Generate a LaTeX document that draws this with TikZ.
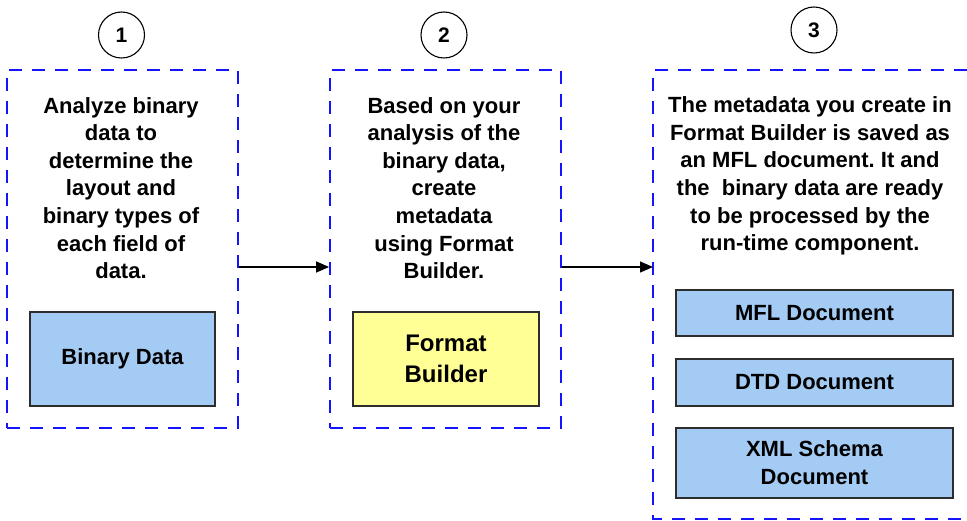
\documentclass[tikz,border=0pt]{standalone}
\usepackage{fontspec}
\setmainfont{Liberation Sans}
\usetikzlibrary{arrows.meta}
\frenchspacing
\definecolor{dashblue}{RGB}{20,20,255}
\definecolor{boxblue}{RGB}{164,203,244}
\definecolor{boxyellow}{RGB}{255,255,150}
\definecolor{boxedge}{RGB}{45,45,45}
\tikzset{
  stagebox/.style={draw=dashblue, line width=1.8pt, dash pattern=on 13pt off 10pt, minimum width=231pt, minimum height=358pt, inner sep=0pt},
  stagetext/.style={align=center, inner sep=0pt, font=\bfseries\fontsize{22}{27.6}\selectfont, anchor=north},
  itembox/.style={draw=boxedge, line width=1.3pt, inner sep=0pt, align=center, font=\bfseries\fontsize{22}{28}\selectfont},
  numcircle/.style={circle, draw=black, line width=1.1pt, minimum size=46pt, inner sep=0pt, font=\bfseries\fontsize{21}{24}\selectfont},
  flow/.style={-{Triangle[length=13pt,width=11pt]}, line width=1.3pt, black}
}
\begin{document}
\begin{tikzpicture}[x=1pt,y=-1pt]
\useasboundingbox (0,0) rectangle (967,521);
% stage boxes
\node[stagebox] (box1) at (122.5,249) {};
\node[stagebox] (box2) at (445.5,249) {};
\coordinate (b3tr) at (967,70);
\coordinate (b3tl) at (653,70);
\coordinate (b3bl) at (653,519);
\coordinate (b3br) at (967,519);
\draw[draw=dashblue, line width=1.8pt, dash pattern=on 13pt off 10pt] (b3tr) -- (b3tl) -- (b3bl) -- (b3br);
% numbers
\node[numcircle] (n1) at (121.5,35) {1};
\node[numcircle] (n2) at (444,35) {2};
\node[numcircle] (n3) at (814,30) {3};
% texts
\node[stagetext] (t1) at (121,97) {Analyze binary\\data to\\determine the\\layout and\\binary types of\\each field of\\data.};
\node[stagetext] (t2) at (444,97) {Based on your\\analysis of the\\binary data,\\create\\metadata\\using Format\\Builder.};
\node[stagetext] (t3) at (810,96.5) {The metadata you create in\\Format Builder is saved as\\an MFL document. It and\\the~~binary data are ready\\to be processed by the\\run-time component.};
% item boxes
\node[itembox, fill=boxblue, minimum width=185pt, minimum height=94pt] (bin) at (122.5,359) {Binary Data};
\node[itembox, fill=boxyellow, minimum width=186pt, minimum height=94pt, font=\bfseries\fontsize{24}{31}\selectfont] (fb) at (446,359) {Format\\Builder};
\node[itembox, fill=boxblue, minimum width=277pt, minimum height=46pt] (mfl) at (814.5,313) {MFL Document};
\node[itembox, fill=boxblue, minimum width=277pt, minimum height=47pt] (dtd) at (814.5,382.5) {DTD Document};
\node[itembox, fill=boxblue, minimum width=277pt, minimum height=70pt] (xml) at (814.5,463) {XML Schema\\Document};
% arrows
\coordinate (ay) at (0,267);
\draw[flow] (box1.east |- ay) -- (box2.west |- ay);
\draw[flow] (box2.east |- ay) -- (b3tl |- ay);
\end{tikzpicture}
\end{document}
